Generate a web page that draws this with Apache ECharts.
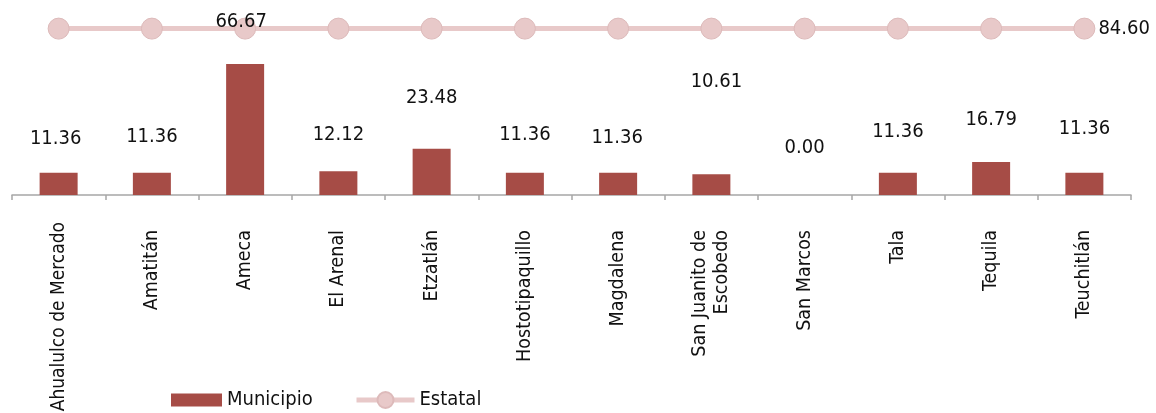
<!DOCTYPE html>
<html>
<head>
<meta charset="utf-8">
<script src="https://cdn.jsdelivr.net/npm/echarts@6/dist/echarts.min.js"></script>
<style>
html,body{margin:0;padding:0;background:#fff;}
#c{width:1156px;height:413px;}
</style>
</head>
<body>
<div id="c"></div>
<script>
// ---- data ----
const categories = ['Ahualulco de Mercado', 'Amatitán', 'Ameca', 'El Arenal', 'Etzatlán', 'Hostotipaquillo', 'Magdalena', 'San Juanito de\nEscobedo', 'San Marcos', 'Tala', 'Tequila', 'Teuchitlán'];
const municipio = [11.36, 11.36, 66.67, 12.12, 23.48, 11.36, 11.36, 10.61, 0.00, 11.36, 16.79, 11.36];
const estatal = [84.60, 84.60, 84.60, 84.60, 84.60, 84.60, 84.60, 84.60, 84.60, 84.60, 84.60, 84.60];
const seriesNames = ['Municipio', 'Estatal'];

// ---- layout (label shifts: [dx, lift above bar top]) ----
const labelShift = [[-3,23.5],[0,26],[-4,32.5],[0,26],[0,41],[0,28],[-1,25],[5,82],[0,37.5],[0,31],[0,32],[0,34]];
const FONT = "'DejaVu Sans Condensed', 'DejaVu Sans', sans-serif";
const BAR = '#A64C46';
const LINE = '#E8C9C9';

const chart = echarts.init(document.getElementById('c'), null, {renderer: 'canvas'});
chart.setOption({
  animation: false,
  backgroundColor: '#fff',
  textStyle: {fontFamily: FONT},
  grid: {left: 12, right: 25, top: 18, bottom: 218, containLabel: false, outerBoundsMode: 'none'},
  legend: [
    {data: [seriesNames[0]], left: 166, top: 385, itemWidth: 51, itemHeight: 13, icon: 'rect',
     itemStyle: {borderWidth: 0},
     textStyle: {fontFamily: FONT, fontSize: 20, color: '#111'}},
    {data: [seriesNames[1]], left: 349, top: 385, itemWidth: 58, itemHeight: 20,
     lineStyle: {width: 5},
     textStyle: {fontFamily: FONT, fontSize: 20, color: '#111'}}
  ],
  xAxis: {
    type: 'category',
    data: categories.map((c, i) => i === 0
      ? {value: c, textStyle: {fontSize: 19, padding: [0, 0, 0, 0]}}
      : c),
    axisLine: {lineStyle: {color: '#A6A6A6', width: 1.5}},
    axisTick: {show: true, length: 5, lineStyle: {color: '#A6A6A6', width: 1.5}},
    axisLabel: {rotate: 90, margin: 27, padding: [0, 8, 0, 0], fontFamily: FONT, fontSize: 19.5, color: '#111', interval: 0, lineHeight: 22}
  },
  yAxis: {
    type: 'value', min: 0, max: 90, show: false,
    splitLine: {show: false}
  },
  series: [
    {
      name: seriesNames[0], type: 'bar', z: 5, barWidth: 38,
      itemStyle: {color: BAR},
      data: municipio.map((v, i) => ({
        value: v,
        label: {show: true, position: 'top', distance: labelShift[i][1], offset: [labelShift[i][0], 0],
          formatter: p => p.value.toFixed(2), fontFamily: FONT, fontSize: 20, color: '#111'}
      }))
    },
    {
      name: seriesNames[1], type: 'line', z: 2,
      symbol: 'circle', symbolSize: 21,
      lineStyle: {color: LINE, width: 5},
      itemStyle: {color: LINE, borderColor: '#DDBABA', borderWidth: 1},
      data: estatal.map((v, i) => ({
        value: v,
        label: {show: i === estatal.length - 1, position: 'right', distance: 3,
          formatter: p => p.value.toFixed(2), fontFamily: FONT, fontSize: 20, color: '#111'}
      }))
    }
  ]
});
</script>
</body>
</html>
